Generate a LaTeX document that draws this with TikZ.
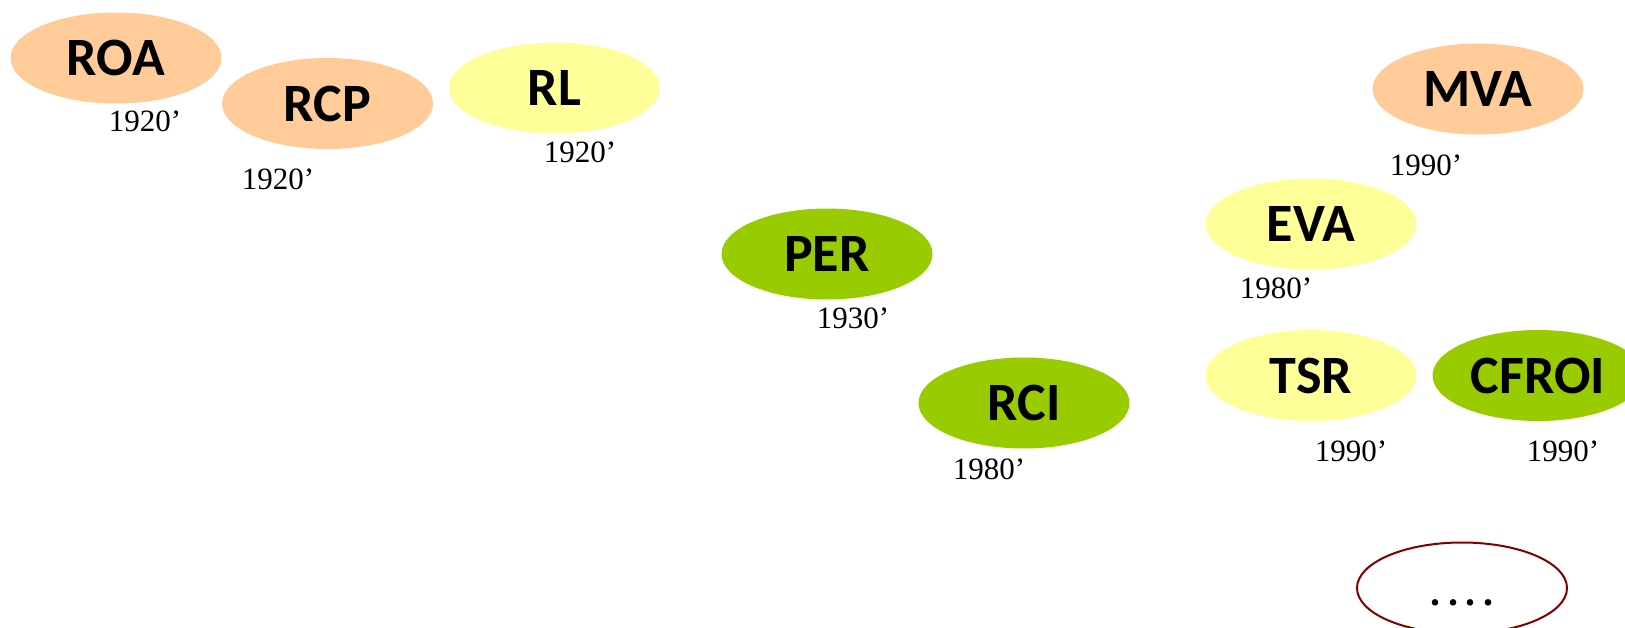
\documentclass[tikz,border=0pt]{standalone}
\usepackage{fontspec}
\setmainfont{Liberation Serif}
\newfontfamily\carl{Carlito}
\usetikzlibrary{shapes.geometric}
\definecolor{peach}{HTML}{FFCC99}
\definecolor{lyellow}{HTML}{FFFF99}
\definecolor{lgreen}{HTML}{99CC00}
\definecolor{dred}{HTML}{800000}
\begin{document}
\begin{tikzpicture}[x=1pt,y=-1pt,
  ell/.style={ellipse, minimum width=211pt, minimum height=91pt, inner sep=0pt,
    font=\carl\bfseries\fontsize{54}{54}\selectfont},
  orng/.style={ell, fill=peach},
  yel/.style={ell, fill=lyellow},
  grn/.style={ell, fill=lgreen},
  yr/.style={inner sep=0pt, font=\fontsize{31}{31}\selectfont}]
\useasboundingbox (0,0) rectangle (1625,627);
\node[orng] (roa) at (116,58) {ROA};
\node[orng] (rcp) at (327.5,103.5) {RCP};
\node[yel] (rl) at (554.5,88) {RL};
\node[grn] (per) at (827,254) {PER};
\node[grn] (rci) at (1024,403) {RCI};
\node[orng] (mva) at (1478,89) {MVA};
\node[yel] (eva) at (1311,224) {EVA};
\node[yel] (tsr) at (1311,375.5) {TSR};
\node[grn] (cfroi) at (1538,375.5) {CFROI};
\node[ellipse, draw=dred, line width=2pt, minimum width=210pt, minimum height=91pt,
  inner sep=0pt, text height=35pt, text depth=0pt,
  font=\bfseries\fontsize{40}{40}\selectfont] (more) at (1462,588)
  {.\hspace{7.6pt}.\hspace{7.6pt}.\hspace{7.6pt}.};
\node[yr] (yroa) at (145,121) {1920’};
\node[yr] (yrcp) at (278,179) {1920’};
\node[yr] (yrl) at (580,152) {1920’};
\node[yr] (yper) at (853,318) {1930’};
\node[yr] (yrci) at (989,469) {1980’};
\node[yr] (ymva) at (1426,165) {1990’};
\node[yr] (yeva) at (1276,288) {1980’};
\node[yr] (ytsr) at (1351,451) {1990’};
\node[yr] (ycfroi) at (1563,451) {1990’};
\end{tikzpicture}
\end{document}
